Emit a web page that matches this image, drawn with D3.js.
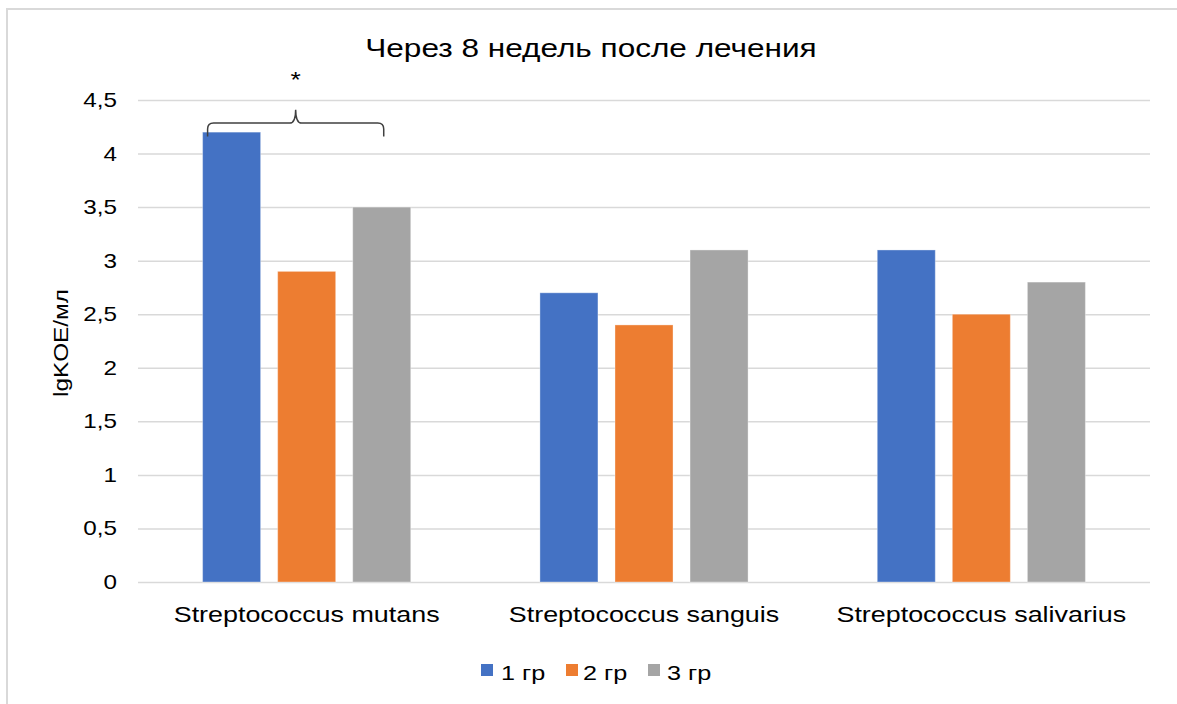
<!DOCTYPE html>
<html>
<head>
<meta charset="utf-8">
<script src="https://cdn.jsdelivr.net/npm/d3@7"></script>
<style>
  html, body { margin: 0; padding: 0; background: #fff; }
  svg text { font-family: "Liberation Sans", Arial, sans-serif; fill: #000; }
</style>
</head>
<body>
<svg id="chart" width="1177" height="704"></svg>
<script>
// Data
const categories = ["Streptococcus mutans", "Streptococcus sanguis", "Streptococcus salivarius"];
const seriesNames = ["1 гр", "2 гр", "3 гр"];
const group1 = [4.2, 2.7, 3.1];
const group2 = [2.9, 2.4, 2.5];
const group3 = [3.5, 3.1, 2.8];
const yTicks = [0, 0.5, 1, 1.5, 2, 2.5, 3, 3.5, 4, 4.5];
const titleText = "Через 8 недель после лечения";
const yTitle = "lgKOE/мл";
const colors = ["#4472C4", "#ED7D31", "#A5A5A5"];

const seriesValues = [group1, group2, group3];
const rows = categories.map((c, i) => ({
  category: c,
  values: seriesNames.map((s, j) => ({ series: s, value: seriesValues[j][i], idx: j }))
}));

// text in this chart is drawn slightly wide
const SX = 1.2;
function widen(sel, xPos) {
  sel.attr("x", xPos / SX).attr("transform", `scale(${SX},1)`);
}

const svg = d3.select("#chart");
const W = 1177, H = 704;
const margin = { left: 138, right: 27, top: 100, bottom: 122 };
const plotW = W - margin.left - margin.right;
const plotH = H - margin.top - margin.bottom;

// chart frame (left and top edges)
svg.append("line").attr("x1", 7).attr("x2", 7).attr("y1", 8).attr("y2", H)
  .attr("stroke", "#d9d9d9").attr("stroke-width", 2);
svg.append("line").attr("x1", 6).attr("x2", W).attr("y1", 9).attr("y2", 9)
  .attr("stroke", "#d9d9d9").attr("stroke-width", 2);

const g = svg.append("g").attr("transform", `translate(${margin.left},${margin.top})`);

const y = d3.scaleLinear().domain([0, 4.5]).range([plotH, 0]);
const x0 = d3.scaleBand().domain(categories).range([0, plotW])
  .paddingInner(0.383).paddingOuter(0.1915);
const x1 = d3.scaleBand().domain(seriesNames).range([0, x0.bandwidth()])
  .paddingInner(0.227).paddingOuter(0);
const color = d3.scaleOrdinal().domain(seriesNames).range(colors);

// gridlines and value labels
const yAxis = d3.axisLeft(y).tickValues(yTicks).tickSize(-plotW)
  .tickFormat(d => String(d).replace(".", ","));
const ya = g.append("g").call(yAxis);
ya.select(".domain").remove();
ya.selectAll(".tick line").attr("stroke", "#d9d9d9").attr("stroke-width", 1.5);
ya.selectAll(".tick text").attr("font-size", 20.2)
  .style("font-family", "'Liberation Sans', Arial, sans-serif").attr("fill", "#000")
  .call(widen, -21);

// bars
const cat = g.selectAll(".cat").data(rows).join("g")
  .attr("class", "cat")
  .attr("transform", d => `translate(${x0(d.category)},0)`);
cat.selectAll("rect").data(d => d.values).join("rect")
  .attr("x", d => x1(d.series))
  .attr("width", x1.bandwidth())
  .attr("y", d => y(d.value))
  .attr("height", d => y(0) - y(d.value))
  .attr("fill", d => color(d.series))
  .attr("stroke", "rgba(255,255,255,0.35)")
  .attr("stroke-width", 1);

// category labels
const xAxis = d3.axisBottom(x0).tickSize(0).tickPadding(24);
const xa = g.append("g").attr("transform", `translate(0,${plotH})`).call(xAxis);
xa.select(".domain").remove();
xa.selectAll(".tick text").attr("font-size", 22.4)
  .style("font-family", "'Liberation Sans', Arial, sans-serif").attr("fill", "#000")
  .call(widen, 0);

// y axis title
svg.append("g").attr("transform", `translate(68,343) rotate(-90)`)
  .append("text")
  .attr("text-anchor", "middle")
  .attr("font-size", 20.3)
  .text(yTitle)
  .call(widen, 0);

// title
svg.append("text")
  .attr("y", 57)
  .attr("text-anchor", "middle")
  .attr("font-size", 26.3)
  .text(titleText)
  .call(widen, 591);

// significance brace over the first category
const c0 = x0(categories[0]);
const bx1 = c0 + x1(seriesNames[0]) + 5;
const bx2 = c0 + x1(seriesNames[2]) + x1.bandwidth() / 2 + 2;
const bm = (bx1 + bx2) / 2;
const yLine = y(4.285), yEnd = y(4.16), yTip = y(4.41);
const r = 6;
const bracePath = `M${bx1},${yEnd} L${bx1},${yLine + r} Q${bx1},${yLine} ${bx1 + r},${yLine}
  L${bm - r},${yLine} Q${bm},${yLine} ${bm},${yTip}
  Q${bm},${yLine} ${bm + r},${yLine} L${bx2 - r},${yLine} Q${bx2},${yLine} ${bx2},${yLine + r} L${bx2},${yEnd}`;
g.append("path").attr("d", bracePath).attr("fill", "none")
  .attr("stroke", "#404040").attr("stroke-width", 1.5);
g.append("text").attr("y", y(4.62))
  .attr("text-anchor", "middle").attr("font-size", 22).text("*")
  .call(widen, bm);

// legend
const legendItems = [
  { name: seriesNames[0], sx: 481, tx: 501 },
  { name: seriesNames[1], sx: 566, tx: 583 },
  { name: seriesNames[2], sx: 648, tx: 667 }
];
const lg = svg.append("g");
const li = lg.selectAll("g").data(legendItems).join("g");
li.append("rect").attr("x", d => d.sx).attr("y", 664).attr("width", 12).attr("height", 12)
  .attr("fill", d => color(d.name));
li.append("text").attr("y", 680).attr("font-size", 21).text(d => d.name)
  .each(function (d) { d3.select(this).call(widen, d.tx); });
</script>
</body>
</html>
